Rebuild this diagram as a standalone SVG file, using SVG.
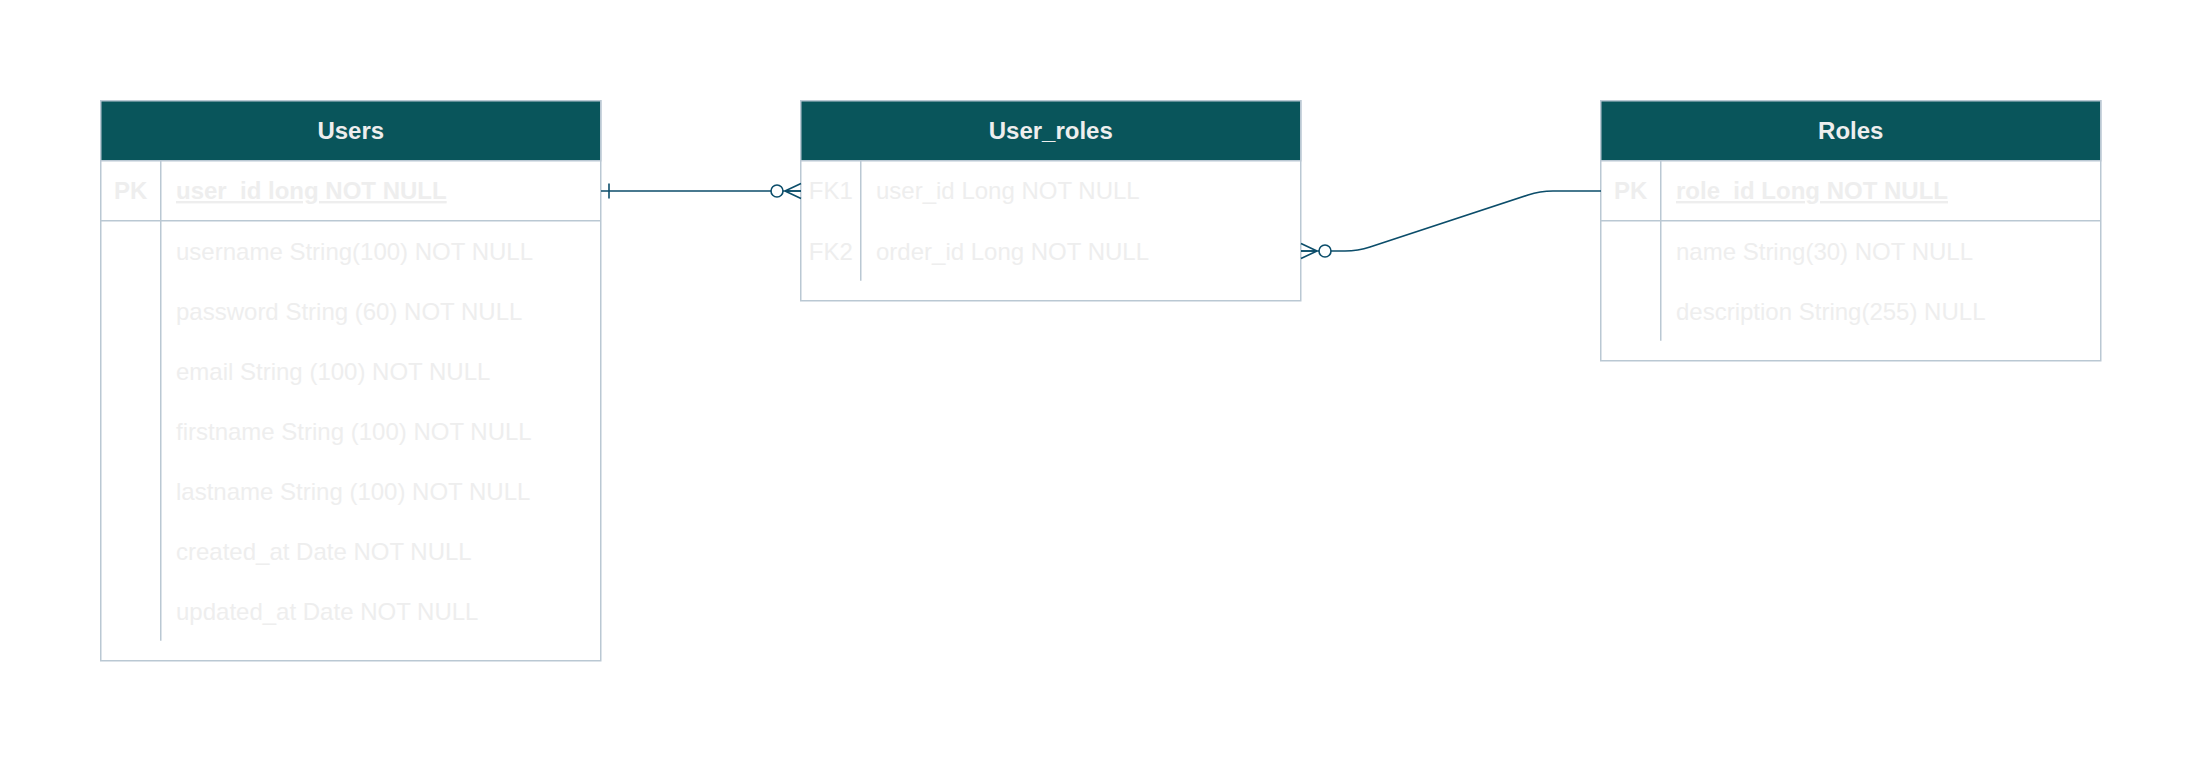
<svg xmlns="http://www.w3.org/2000/svg" width="2202" height="762" viewBox="0 0 2202 762">
<style>
  .box { fill: #FFFFFF; stroke: #BAC8D3; stroke-width: 1.5; }
  .hdr { fill: #09555B; stroke: #BAC8D3; stroke-width: 1.5; }
  .sep { stroke: #BAC8D3; stroke-width: 1.5; fill: none; }
  text { font-family: "Liberation Sans", Arial, Helvetica, sans-serif; font-size: 24px; fill: #EEEEEE; }
  .title { font-weight: bold; text-anchor: middle; }
  .key { text-anchor: middle; }
  .pk { font-weight: bold; }
  .pkf { font-weight: bold; text-decoration: underline; }
  .edge { stroke: #0B4D6A; stroke-width: 1.6; fill: none; }
</style>
<defs>
  <marker id="zeroMany" markerUnits="userSpaceOnUse" viewBox="-32 -10 34 20" refX="0" refY="0" markerWidth="34" markerHeight="20" orient="auto-start-reverse" overflow="visible">
    <path d="M-16,0 L0,-7.5 M-16,0 L0,7.5 M-16,0 L0,0" stroke="#0B4D6A" stroke-width="1.6" fill="none"/>
    <circle cx="-24" cy="0" r="6" fill="#FFFFFF" stroke="#0B4D6A" stroke-width="1.6"/>
  </marker>
  <marker id="one" markerUnits="userSpaceOnUse" viewBox="-12 -10 14 20" refX="0" refY="0" markerWidth="14" markerHeight="20" orient="auto-start-reverse" overflow="visible">
    <path d="M-8,-7.5 L-8,7.5" stroke="#0B4D6A" stroke-width="1.6" fill="none"/>
  </marker>
</defs>
<rect width="2202" height="762" fill="#FFFFFF"/>

<g id="users">
  <rect class="box" x="100.75" y="100.75" width="500" height="560"/>
  <rect class="hdr" x="100.75" y="100.75" width="500" height="60"/>
  <text class="title" x="350.75" y="139">Users</text>
  <line class="sep" x1="100.75" y1="220.75" x2="600.75" y2="220.75"/>
  <line class="sep" x1="160.75" y1="160.75" x2="160.75" y2="640.75"/>
  <text class="key pk" x="130.75" y="199">PK</text>
  <text class="pkf" x="176" y="199">user_id long NOT NULL</text>
  <text x="176" y="260">username String(100) NOT NULL</text>
  <text x="176" y="320">password String (60) NOT NULL</text>
  <text x="176" y="380">email String (100) NOT NULL</text>
  <text x="176" y="440">firstname String (100) NOT NULL</text>
  <text x="176" y="500">lastname String (100) NOT NULL</text>
  <text x="176" y="560">created_at Date NOT NULL</text>
  <text x="176" y="620">updated_at Date NOT NULL</text>
</g>

<g id="user_roles">
  <rect class="box" x="800.75" y="100.75" width="500" height="200"/>
  <rect class="hdr" x="800.75" y="100.75" width="500" height="60"/>
  <text class="title" x="1050.75" y="139">User_roles</text>
  <line class="sep" x1="860.75" y1="160.75" x2="860.75" y2="280.75"/>
  <text class="key" x="830.75" y="199">FK1</text>
  <text x="876" y="199">user_id Long NOT NULL</text>
  <text class="key" x="830.75" y="260">FK2</text>
  <text x="876" y="260">order_id Long NOT NULL</text>
</g>

<g id="roles">
  <rect class="box" x="1600.75" y="100.75" width="500" height="260"/>
  <rect class="hdr" x="1600.75" y="100.75" width="500" height="60"/>
  <text class="title" x="1850.75" y="139">Roles</text>
  <line class="sep" x1="1600.75" y1="220.75" x2="2100.75" y2="220.75"/>
  <line class="sep" x1="1660.75" y1="160.75" x2="1660.75" y2="340.75"/>
  <text class="key pk" x="1630.75" y="199">PK</text>
  <text class="pkf" x="1676" y="199">role_id Long NOT NULL</text>
  <text x="1676" y="260">name String(30) NOT NULL</text>
  <text x="1676" y="320">description String(255) NULL</text>
</g>

<g id="connectors">
  <path class="edge" d="M601,191 L801,191" marker-start="url(#one)" marker-end="url(#zeroMany)"/>
  <path class="edge" d="M1301,251 L1345,251 Q1358,251 1370,247 L1528,195 Q1540,191 1553,191 L1601,191" marker-start="url(#zeroMany)"/>
</g>
</svg>
